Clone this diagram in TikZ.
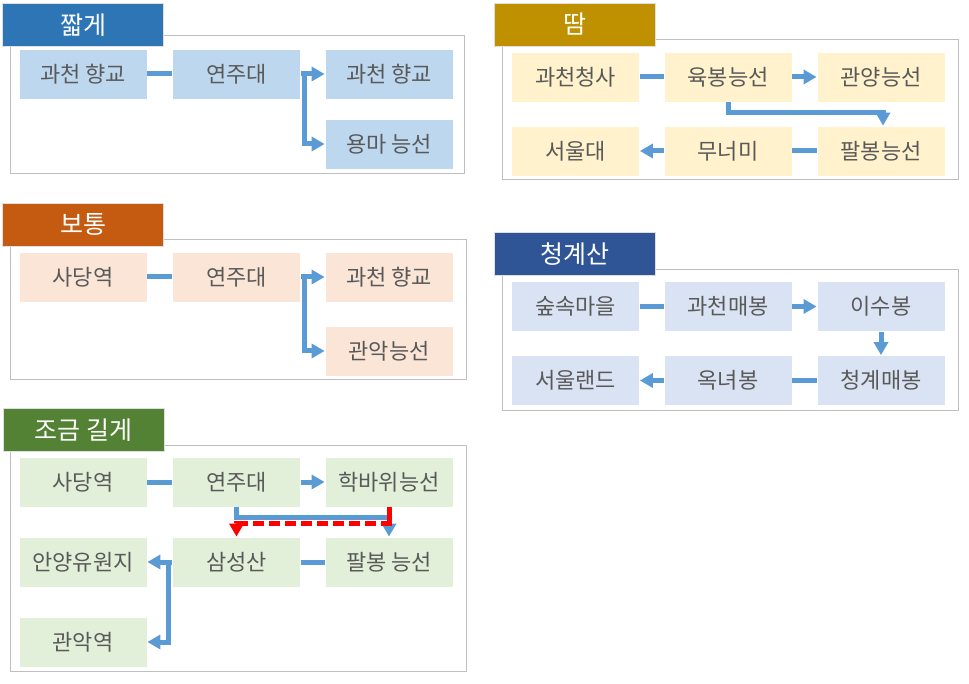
\documentclass[tikz,border=0pt]{standalone}
\usepackage{fontspec}
\setmainfont{Noto Sans CJK KR}
\usetikzlibrary{arrows.meta}
\definecolor{frm}{HTML}{BFBFBF}
\definecolor{conn}{HTML}{5B9BD5}
\definecolor{txt}{HTML}{595959}
\definecolor{tA}{HTML}{2E75B6}\definecolor{fA}{HTML}{BDD7EE}
\definecolor{tB}{HTML}{BF9000}\definecolor{fB}{HTML}{FFF2CC}
\definecolor{tC}{HTML}{C55A11}\definecolor{fC}{HTML}{FBE5D6}
\definecolor{tD}{HTML}{2F5597}\definecolor{fD}{HTML}{DAE3F3}
\definecolor{tE}{HTML}{548235}\definecolor{fE}{HTML}{E2F0D9}
\definecolor{redc}{HTML}{FF0000}
\tikzset{
  bx/.style={draw=white, line width=0.8pt, inner sep=0pt, minimum width=128pt, minimum height=50pt,
    font=\fontsize{22}{24}\selectfont, text=txt},
  ttl/.style={draw=white!75!gray, line width=0.8pt, inner sep=0pt, minimum width=161pt, minimum height=43pt,
    font=\fontsize{25}{27}\selectfont, text=white},
  frame/.style={draw=frm, line width=1pt},
  ln/.style={draw=conn, line width=5pt},
  arr/.style={draw=conn, line width=5pt, line join=miter, -{Triangle[length=13pt,width=14pt]}},
  rarr/.style={draw=redc, line width=5pt, dash pattern=on 11pt off 5pt, -{Triangle[length=13pt,width=14pt]}},
}
\begin{document}
\begin{tikzpicture}[x=1pt,y=-1pt]
\useasboundingbox (0,0) rectangle (969,684);
\fill[white] (0,0) rectangle (969,684);
% frames
\draw[frame] (10,36) rectangle (464,174);
\draw[frame] (502,40) rectangle (958,180);
\draw[frame] (10,240) rectangle (466,380);
\draw[frame] (502,270) rectangle (958,410);
\draw[frame] (10,445) rectangle (466,671);
% titles
\node[ttl, fill=tA] (tA) at (83,25) {짧게};
\node[ttl, fill=tB] (tB) at (575,24.5) {땀};
\node[ttl, fill=tC] (tC) at (83,224.5) {보통};
\node[ttl, fill=tD] (tD) at (575,254) {청계산};
\node[ttl, fill=tE] (tE) at (83.5,430) {조금 길게};
% panel 1
\node[bx, fill=fA] (a1) at (83,74) {과천 향교};
\node[bx, fill=fA] (a2) at (236.5,74) {연주대};
\node[bx, fill=fA] (a3) at (389,74) {과천 향교};
\node[bx, fill=fA] (a4) at (389,144) {용마 능선};
\draw[ln] (a1.east) -- (a2.west);
\draw[arr] (a2.east) -- (a3.west);
\draw[arr] (a2.east) -- ++(4,0) |- (a4.west);
% panel 2
\node[bx, fill=fB] (b1) at (575.5,77) {과천청사};
\node[bx, fill=fB] (b2) at (728,77) {육봉능선};
\node[bx, fill=fB] (b3) at (881,77) {관양능선};
\node[bx, fill=fB] (b4) at (881,151) {팔봉능선};
\node[bx, fill=fB] (b5) at (728,151) {무너미};
\node[bx, fill=fB] (b6) at (575.5,151) {서울대};
\draw[ln] (b1.east) -- (b2.west);
\draw[arr] (b2.east) -- (b3.west);
\draw[arr] (b2.south) -- ++(0,10) -| ([xshift=2pt]b4.north);
\draw[ln] (b4.west) -- (b5.east);
\draw[arr] (b5.west) -- (b6.east);
% panel 3
\node[bx, fill=fC] (c1) at (83,277) {사당역};
\node[bx, fill=fC] (c2) at (236.5,277) {연주대};
\node[bx, fill=fC] (c3) at (389,277) {과천 향교};
\node[bx, fill=fC] (c4) at (389,351) {관악능선};
\draw[ln] (c1.east) -- (c2.west);
\draw[arr] (c2.east) -- (c3.west);
\draw[arr] (c2.east) -- ++(4,0) |- (c4.west);
% panel 4
\node[bx, fill=fD] (d1) at (575.5,306.5) {숲속마을};
\node[bx, fill=fD] (d2) at (728,306.5) {과천매봉};
\node[bx, fill=fD] (d3) at (881,306.5) {이수봉};
\node[bx, fill=fD] (d4) at (881,380.5) {청계매봉};
\node[bx, fill=fD] (d5) at (728,380.5) {옥녀봉};
\node[bx, fill=fD] (d6) at (575.5,380.5) {서울랜드};
\draw[ln] (d1.east) -- (d2.west);
\draw[arr] (d2.east) -- (d3.west);
\draw[arr] (d3.south) -- (d4.north);
\draw[ln] (d4.west) -- (d5.east);
\draw[arr] (d5.west) -- (d6.east);
% panel 5
\node[bx, fill=fE] (e1) at (83,482) {사당역};
\node[bx, fill=fE] (e2) at (236.5,482) {연주대};
\node[bx, fill=fE] (e3) at (389,482) {학바위능선};
\node[bx, fill=fE] (e4) at (389,562) {팔봉 능선};
\node[bx, fill=fE] (e5) at (236.5,562) {삼성산};
\node[bx, fill=fE] (e6) at (83,562) {안양유원지};
\node[bx, fill=fE] (e7) at (83,642) {관악역};
\draw[ln] (e1.east) -- (e2.west);
\draw[arr] (e2.east) -- (e3.west);
\draw[arr] (e2.south) -- ++(0,10) -| (e4.north);
\path (e3.south) ++(0,16) coordinate (rc) ++(2.5,0) coordinate (rs);
\draw[draw=redc, line width=5pt] (e3.south) -- (rc);
\draw[rarr] (rs) -| (e5.north);
\draw[ln] (e4.west) -- (e5.east);
\draw[arr] (e5.west) -- (e6.east);
\draw[arr] (e5.west) -- ++(-4,0) |- (e7.east);
\end{tikzpicture}
\end{document}
